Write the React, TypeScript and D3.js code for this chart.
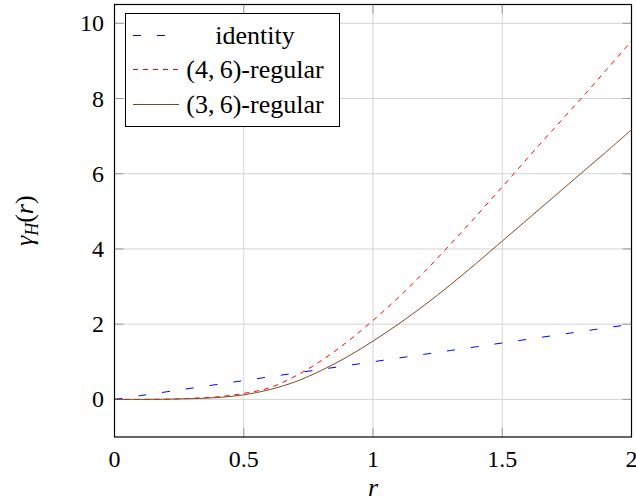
import React from "react";
import * as d3 from "d3";

const rValues = [0, 0.1, 0.2, 0.3, 0.4, 0.5, 0.6, 0.7, 0.8, 0.9, 1.0, 1.1, 1.2, 1.3, 1.4, 1.5, 1.6, 1.7, 1.8, 1.9, 2.0];
const identity = [0, 0.1, 0.2, 0.3, 0.4, 0.5, 0.6, 0.7, 0.8, 0.9, 1.0, 1.1, 1.2, 1.3, 1.4, 1.5, 1.6, 1.7, 1.8, 1.9, 2.0];
const regular46 = [0, 0, 0.005, 0.03, 0.07, 0.16, 0.31, 0.62, 1.03, 1.53, 2.1, 2.72, 3.4, 4.13, 4.88, 5.65, 6.43, 7.2, 7.96, 8.74, 9.53];
const regular36 = [0, 0, 0.005, 0.02, 0.05, 0.12, 0.26, 0.47, 0.77, 1.13, 1.55, 2.01, 2.51, 3.05, 3.62, 4.21, 4.8, 5.39, 5.98, 6.57, 7.17];
const xTicks = [0, 0.5, 1, 1.5, 2];
const xTickLabels = ["0", "0.5", "1", "1.5", "2"];
const yTicks = [0, 2, 4, 6, 8, 10];
const yTickLabels = ["0", "2", "4", "6", "8", "10"];
const seriesNames = ["identity", "(4,\u20096)-regular", "(3,\u20096)-regular"];

const W = 636;
const H = 502;
const L = 114.5, R = 631.5, T = 4.5, B = 437;

const FONT = "Liberation Serif, Times New Roman, serif";

export default function App() {
  const x = d3.scaleLinear().domain([0, 2]).range([L, R]);
  const y = d3.scaleLinear().domain([-1, 10.5]).range([B, T]);

  const mk = (vals: number[]) =>
    d3
      .line<number>()
      .x((_, i) => x(rValues[i]))
      .y((v) => y(v))
      .curve(d3.curveCatmullRom.alpha(0.5))(vals) as string;

  const series = [
    { vals: identity, color: "#0000ff", dash: "8,16", width: 1 },
    { vals: regular46, color: "#ff0000", dash: "5,5", width: 1 },
    { vals: regular36, color: "#7b4b22", dash: "", width: 1 },
  ];

  const tickLen = 9;
  const legX = 125.5, legY = 13.5, legW = 214, legH = 113;
  const rowY = [35.5, 69.5, 104.5];
  const ts = { fontFamily: FONT };

  return (
    <svg
      width={W}
      height={H}
      style={{ position: "absolute", left: 0, top: 0, background: "#fff", fontFamily: FONT }}
    >
      <defs>
        <clipPath id="plotclip">
          <rect x={L} y={T} width={R - L} height={B - T} />
        </clipPath>
      </defs>
      {xTicks.map((t) => (
        <line key={"gx" + t} x1={x(t)} x2={x(t)} y1={T} y2={B} stroke="#d4d4d4" strokeWidth={1} />
      ))}
      {yTicks.map((t) => (
        <line key={"gy" + t} x1={L} x2={R} y1={y(t)} y2={y(t)} stroke="#d4d4d4" strokeWidth={1} />
      ))}
      {xTicks.map((t) => (
        <g key={"tx" + t}>
          <line x1={x(t)} x2={x(t)} y1={B} y2={B - tickLen} stroke="#999" strokeWidth={1} />
          <line x1={x(t)} x2={x(t)} y1={T} y2={T + tickLen} stroke="#999" strokeWidth={1} />
        </g>
      ))}
      {yTicks.map((t) => (
        <g key={"ty" + t}>
          <line x1={L} x2={L + tickLen} y1={y(t)} y2={y(t)} stroke="#999" strokeWidth={1} />
          <line x1={R} x2={R - tickLen} y1={y(t)} y2={y(t)} stroke="#999" strokeWidth={1} />
        </g>
      ))}
      <g clipPath="url(#plotclip)">
        {series.map((s, i) => (
          <path
            key={"s" + i}
            d={mk(s.vals)}
            fill="none"
            stroke={s.color}
            strokeWidth={s.width}
            strokeDasharray={s.dash || undefined}
          />
        ))}
      </g>
      <rect x={L} y={T} width={R - L} height={B - T} fill="none" stroke="#000" strokeWidth={1.2} />
      {xTicks.map((t, i) => (
        <text key={"lx" + t} x={x(t)} y={467} textAnchor="middle" fontSize={24} style={ts}>
          {xTickLabels[i]}
        </text>
      ))}
      {yTicks.map((t, i) => (
        <text key={"ly" + t} x={104} y={y(t) + 8} textAnchor="end" fontSize={24} style={ts}>
          {yTickLabels[i]}
        </text>
      ))}
      <text x={(L + R) / 2} y={496} textAnchor="middle" fontSize={26} fontStyle="italic" style={ts}>
        r
      </text>
      <text
        transform={`translate(33, ${(T + B) / 2}) rotate(-90)`}
        textAnchor="middle"
        fontSize={26}
        style={ts}
      >
        <tspan fontStyle="italic">γ</tspan>
        <tspan fontStyle="italic" fontSize={18} dy={5}>H</tspan>
        <tspan dy={-5}>(</tspan>
        <tspan fontStyle="italic">r</tspan>
        <tspan>)</tspan>
      </text>
      <rect x={legX} y={legY} width={legW} height={legH} fill="#fff" stroke="#000" strokeWidth={1} />
      {series.map((s, i) => (
        <g key={"lg" + i}>
          <line
            x1={133}
            x2={179}
            y1={rowY[i]}
            y2={rowY[i]}
            stroke={s.color}
            strokeWidth={s.width}
            strokeDasharray={s.dash || undefined}
          />
          <text x={255} y={rowY[i] + 8} textAnchor="middle" fontSize={26} style={ts}>
            {seriesNames[i]}
          </text>
        </g>
      ))}
    </svg>
  );
}
